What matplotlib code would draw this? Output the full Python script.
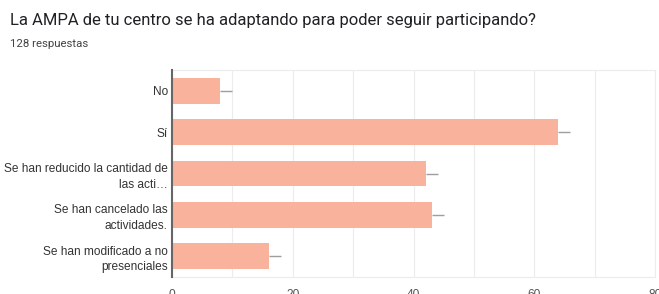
import matplotlib
matplotlib.use("Agg")
import matplotlib.pyplot as plt
from matplotlib.ticker import MultipleLocator

categories = ["No", "Sí", "Se han reducido la cantidad de\nlas acti…",
              "Se han cancelado las\nactividades.", "Se han modificado a no\npresenciales"]
values = [8, 64, 42, 43, 16]
err_plus = [2, 2, 2, 2, 2]
x_ticks = [0, 20, 40, 60, 80]
title = "La AMPA de tu centro se ha adaptando para poder seguir participando?"
subtitle = "128 respuestas"

plt.rcParams['font.family'] = ['Liberation Sans', 'DejaVu Sans']

fig = plt.figure(figsize=(6.59, 2.94), dpi=100)
ax = fig.add_axes([172/659, 1-277/294, (655-172)/659, (277-70)/294])

y = list(range(len(categories)))
ax.barh(y, values, height=0.62, color="#f9b29b", zorder=3)
ax.errorbar(values, y, xerr=[[0]*len(values), err_plus], fmt='none',
            ecolor="#9e9e9e", elinewidth=1, capsize=0, zorder=2)

ax.set_xlim(0, 80)
ax.set_ylim(len(categories) - 0.5, -0.5)
ax.set_yticks(y)
ax.set_yticklabels(categories, fontsize=8.6, color="#333333", linespacing=1.4)
ax.set_xticks(x_ticks)
ax.set_xticklabels([str(t) for t in x_ticks], fontsize=8.6, color="#555555")
ax.xaxis.set_minor_locator(MultipleLocator(10))
ax.grid(axis='x', which='both', color="#ececec", linewidth=0.8, zorder=0)
ax.tick_params(axis='both', which='both', length=0, pad=3)
ax.tick_params(axis='x', pad=9)
for s in ['top', 'right', 'bottom']:
    ax.spines[s].set_color("#ececec")
    ax.spines[s].set_linewidth(0.8)
ax.spines['left'].set_color("#666666")
ax.spines['left'].set_linewidth(1.5)
ax.spines['left'].set_zorder(4)

fig.text(10/659, 1-20/294, title, fontsize=12, color="#202124", va='center', ha='left',
         family=['Roboto', 'DejaVu Sans'])
fig.text(10/659, 1-44/294, subtitle, fontsize=8.2, color="#444444", va='center', ha='left',
         family=['Roboto', 'DejaVu Sans'])

fig.savefig("out.png", dpi=100)
